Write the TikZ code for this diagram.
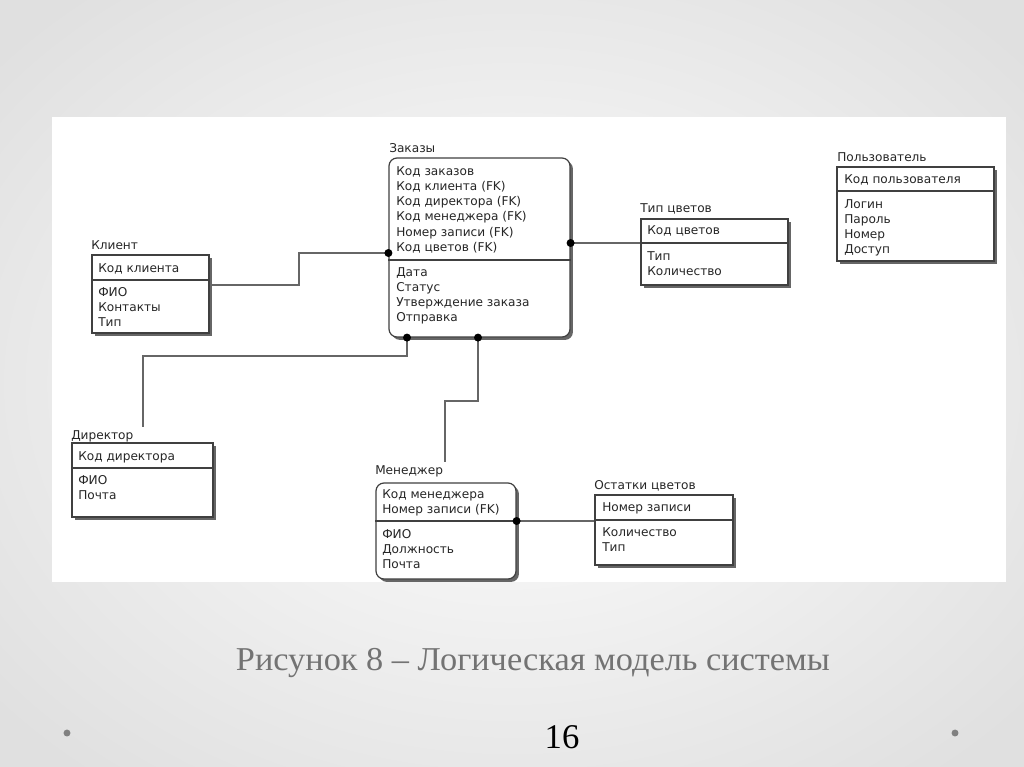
\documentclass[tikz,border=0pt]{standalone}
\usepackage{fontspec}
\setmainfont{Liberation Serif}
\newfontfamily\erfont{DejaVu Sans}
\usetikzlibrary{fit,shadows,calc}
\newcommand\ergrows[4]{\foreach \t [count=\i] in {#4} {\node[row] (#1\i) at (#2,{#3+15.3*(\i-1)}) {\t};}}
\begin{document}
\begin{tikzpicture}[x=0.75pt,y=-0.75pt,
  ent/.style={draw=black!75, line width=0.9pt, fill=white, inner sep=0pt,
     drop shadow={shadow xshift=2.2pt, shadow yshift=-2.2pt, fill=black!60, opacity=1}},
  divline/.style={draw=black!75, line width=0.9pt},
  lbl/.style={font=\erfont\fontsize{9.1}{10}\selectfont, text=black!85, anchor=base west, inner sep=0pt},
  row/.style={lbl},
  conn/.style={draw=black!60, line width=1pt},
  dot/.style={circle, fill=black, inner sep=0pt, minimum size=6pt}]
\useasboundingbox (0,0) rectangle (1024,767);
\fill[black!12] (0,0) rectangle (1024,767);
\shade[inner color=white, outer color=black!12] (-150,-120) rectangle (1174,887);
\fill[white] (52,117) rectangle (1006,582);

% Заказы
\node[ent, rounded corners=6pt, fit={(389,158)(570,337)}] (zak) {};
\draw[divline] (zak.west |- 0,260) -- (zak.east |- 0,260);
\node[lbl] (zakT) at (389,152) {Заказы};
\ergrows{zakk}{396}{175}{Код заказов,Код клиента (FK),Код директора (FK),Код менеджера (FK),Номер записи (FK),Код цветов (FK)}
\ergrows{zaka}{396}{276}{Дата,Статус,Утверждение заказа,Отправка}

% Клиент
\node[ent, fit={(92,255)(209,333)}] (kli) {};
\draw[divline] (kli.west |- 0,280) -- (kli.east |- 0,280);
\node[lbl] (kliT) at (91,249) {Клиент};
\ergrows{klik}{98}{272}{Код клиента}
\ergrows{klia}{98}{296}{ФИО,Контакты,Тип}

% Тип цветов
\node[ent, fit={(641,219)(788,285)}] (tip) {};
\draw[divline] (tip.west |- 0,243) -- (tip.east |- 0,243);
\node[lbl] (tipT) at (640,212) {Тип цветов};
\ergrows{tipk}{647}{234}{Код цветов}
\ergrows{tipa}{647}{260}{Тип,Количество}

% Пользователь
\node[ent, fit={(837,167)(994,261)}] (pol) {};
\draw[divline] (pol.west |- 0,191) -- (pol.east |- 0,191);
\node[lbl] (polT) at (837,161) {Пользователь};
\ergrows{polk}{844}{183}{Код пользователя}
\ergrows{pola}{844}{208}{Логин,Пароль,Номер,Доступ}

% Директор
\node[ent, fit={(72,443)(213,517)}] (dir) {};
\draw[divline] (dir.west |- 0,468) -- (dir.east |- 0,468);
\node[lbl] (dirT) at (71,439) {Директор};
\ergrows{dirk}{78}{460}{Код директора}
\ergrows{dira}{78}{484}{ФИО,Почта}

% Менеджер
\node[ent, rounded corners=6pt, fit={(376,483)(516,579)}] (men) {};
\draw[divline] (men.west |- 0,521) -- (men.east |- 0,521);
\node[lbl] (menT) at (375,474) {Менеджер};
\ergrows{menk}{382}{498}{Код менеджера,Номер записи (FK)}
\ergrows{mena}{382}{538}{ФИО,Должность,Почта}

% Остатки цветов
\node[ent, fit={(595,495)(733,565)}] (ost) {};
\draw[divline] (ost.west |- 0,520) -- (ost.east |- 0,520);
\node[lbl] (ostT) at (594,489) {Остатки цветов};
\ergrows{ostk}{602}{511}{Номер записи}
\ergrows{osta}{602}{536}{Количество,Тип}

% connectors
\coordinate (dirEnd) at (143,427);
\coordinate (menEnd) at (445,462);
\draw[conn] (kli.east |- 0,285) -- (299,285) -- (299,253) -- (zak.west |- 0,253);
\draw[conn] (zak.east |- 0,243) -- (tip.west |- 0,243);
\draw[conn] (zak.south -| 407,0) -- (407,356) -- (143,356) -- (dirEnd);
\draw[conn] (zak.south -| 478,0) -- (478,401) -- (445,401) -- (menEnd);
\draw[conn] (men.east |- 0,521) -- (ost.west |- 0,521);
\node[dot] (d1) at (zak.west |- 0,253) {};
\node[dot] (d2) at (zak.east |- 0,243) {};
\node[dot] (d3) at (zak.south -| 407,0) {};
\node[dot] (d4) at (zak.south -| 478,0) {};
\node[dot] (d5) at (men.east |- 0,521) {};

% caption
\node[font=\fontsize{25}{30}\selectfont, text=black!55, anchor=base, inner sep=0pt, xscale=1.03] (cap) at (533,670) {Рисунок 8 – Логическая модель системы};
\node[font=\fontsize{26}{30}\selectfont, text=black, anchor=base, inner sep=0pt] (pnum) at (562,748) {16};
\fill[black!50] (67,733) circle (2.6pt);
\fill[black!50] (955,733) circle (2.6pt);
\end{tikzpicture}
\end{document}
